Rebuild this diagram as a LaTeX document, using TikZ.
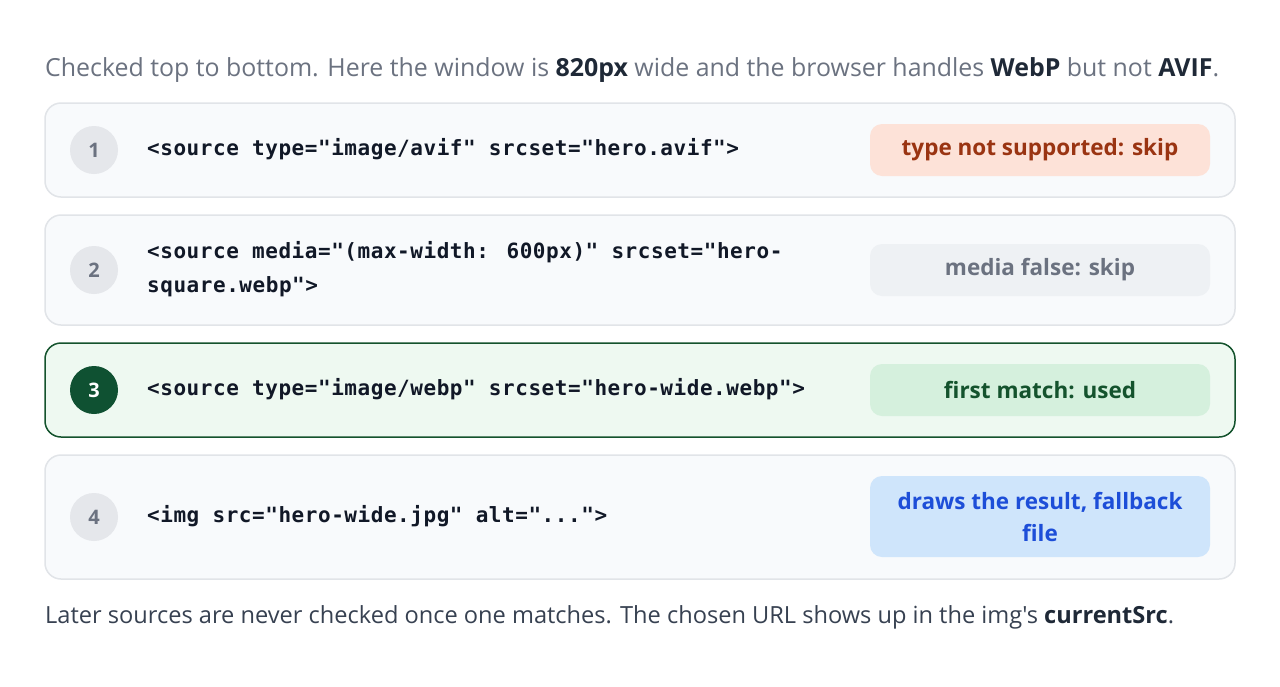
\documentclass[tikz,border=0pt]{standalone}
\usepackage{fontspec}
\newfontfamily\prosefont{Open Sans}
\setmainfont{Open Sans}
\newfontfamily\codefont[LetterSpace=2.6]{DejaVu Sans Mono}
\usetikzlibrary{positioning}
\definecolor{cardbg}{HTML}{F8FAFC}
\definecolor{cardline}{HTML}{E1E4E8}
\definecolor{greenbg}{HTML}{EEF9F1}
\definecolor{greenline}{HTML}{14532D}
\definecolor{greendark}{HTML}{0F5132}
\definecolor{circgray}{HTML}{E5E7EB}
\definecolor{numgray}{HTML}{6B7280}
\definecolor{code}{HTML}{111827}
\definecolor{introgray}{HTML}{6B7280}
\definecolor{outrogray}{HTML}{374151}
\definecolor{strong}{HTML}{1F2937}
\definecolor{redbg}{HTML}{FDE2D8}
\definecolor{redfg}{HTML}{9A3412}
\definecolor{graybg}{HTML}{EEF1F4}
\definecolor{grayfg}{HTML}{6B7280}
\definecolor{gbadgebg}{HTML}{D5F0DD}
\definecolor{gbadgefg}{HTML}{14532D}
\definecolor{bluebg}{HTML}{CFE5FB}
\definecolor{bluefg}{HTML}{1D4ED8}
\tikzset{
  card/.style={draw=cardline, fill=cardbg, line width=1.5pt, rounded corners=16pt},
  cardsel/.style={draw=greenline, fill=greenbg, line width=1.5pt, rounded corners=16pt},
  num/.style={circle, fill=circgray, minimum size=48pt, inner sep=0pt, text=numgray, font=\prosefont\fontsize{20}{22}\selectfont\bfseries},
  numsel/.style={circle, fill=greendark, minimum size=48pt, inner sep=0pt, text=white, font=\prosefont\fontsize{20}{22}\selectfont\bfseries},
  codetext/.style={anchor=west, align=left, text=code, inner sep=0pt, font=\codefont\fontsize{21}{34}\selectfont\bfseries},
  badge/.style={rounded corners=12pt, minimum width=340pt, inner sep=0pt, align=center, font=\prosefont\fontsize{22.5}{32}\selectfont\bfseries},
  prose/.style={anchor=west, inner sep=0pt}
}
\begin{document}
\begin{tikzpicture}[x=1pt,y=-1pt]
\useasboundingbox[fill=white] (0,0) rectangle (1280,686);
\node[prose, text=introgray, font=\prosefont\fontsize{24.9}{30}\selectfont] (intro) at (45,70) {Checked top to bottom. Here the window is \textcolor{strong}{\textbf{820px}} wide and the browser handles \textcolor{strong}{\textbf{WebP}} but not \textcolor{strong}{\textbf{AVIF}}.};

% card 1
\draw[card] (45,103) rectangle (1235,197);
\node[num] (n1) at (94,150) {1};
\node[codetext] (c1) at (147,149.5) {<source type="image/avif" srcset="hero.avif">};
\node[badge, fill=redbg, text=redfg, minimum height=52pt] (b1) at (1040,150) {type not supported: skip};

% card 2
\draw[card] (45,215) rectangle (1235,325);
\node[num] (n2) at (94,270) {2};
\node[codetext] (c2) at (147,269.5) {<source media="(max-width: 600px)" srcset="hero-\\square.webp">};
\node[badge, fill=graybg, text=grayfg, minimum height=52pt] (b2) at (1040,270) {media false: skip};

% card 3
\draw[cardsel] (45,343) rectangle (1235,437);
\node[numsel] (n3) at (94,390) {3};
\node[codetext] (c3) at (147,389.5) {<source type="image/webp" srcset="hero-wide.webp">};
\node[badge, fill=gbadgebg, text=gbadgefg, minimum height=52pt] (b3) at (1040,390) {first match: used};

% card 4
\draw[card] (45,455) rectangle (1235,579);
\node[num] (n4) at (94,517) {4};
\node[codetext] (c4) at (147,516.5) {<img src="hero-wide.jpg" alt="...">};
\node[badge, fill=bluebg, text=bluefg, minimum height=81pt] (b4) at (1040,516.5) {draws the result, fallback\\file};

\node[prose, text=outrogray, font=\prosefont\fontsize{23.6}{30}\selectfont] (outro) at (45,617) {Later sources are never checked once one matches. The chosen URL shows up in the img's \textcolor{strong}{\textbf{currentSrc}}.};
\end{tikzpicture}
\end{document}
